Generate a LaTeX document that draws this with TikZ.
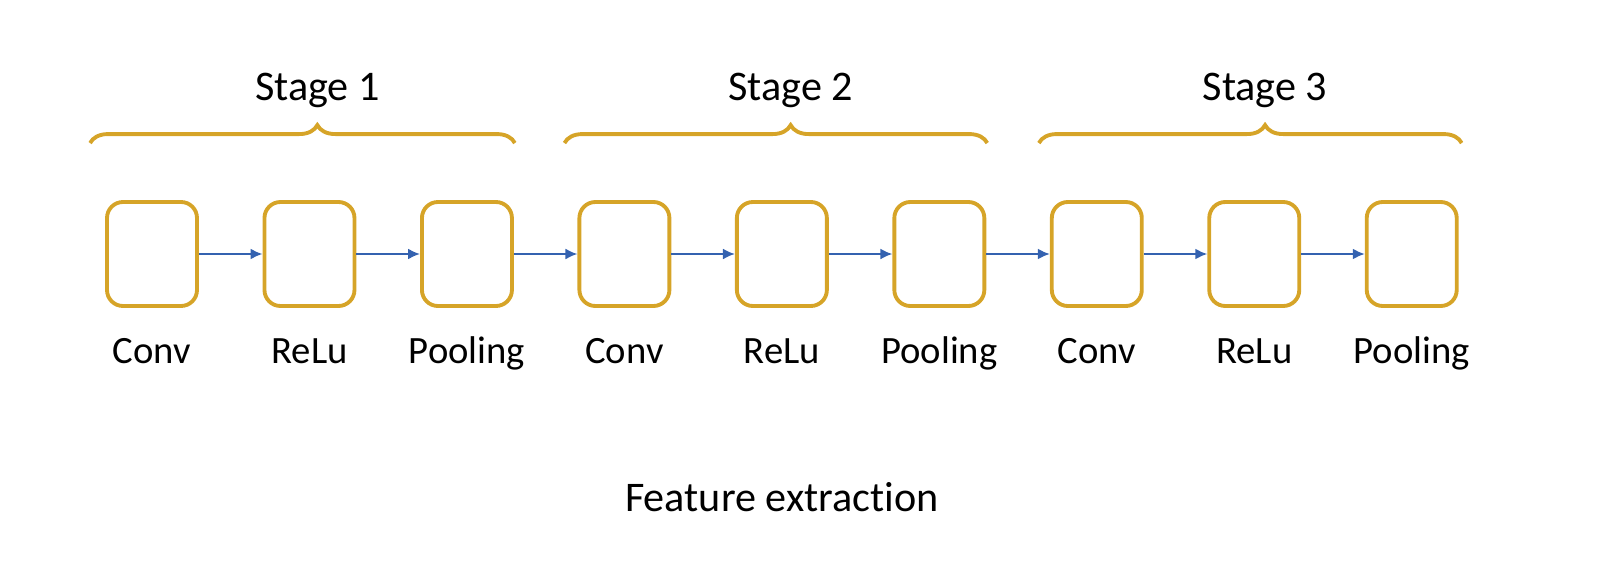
\documentclass[tikz,border=0pt]{standalone}
\usepackage{fontspec}
\setmainfont{Carlito}[Ligatures=NoCommon]
\usetikzlibrary{positioning,arrows.meta,decorations.pathreplacing}
\definecolor{boxgold}{RGB}{214,164,40}
\definecolor{flowblue}{RGB}{52,98,176}

\begin{document}
\begin{tikzpicture}[
        node distance=0.636cm,
        layer/.style={rectangle, rounded corners=1.6mm, draw=boxgold, line width=1.1pt, minimum width=0.9cm, minimum height=1.04cm, inner sep=0pt},
        lbl/.style={anchor=base, font=\fontsize{11pt}{13pt}\selectfont, inner sep=0pt},
        stagelbl/.style={anchor=base, font=\fontsize{12pt}{14pt}\selectfont, inner sep=0pt},
        flow/.style={draw=flowblue, line width=0.6pt, -{Latex[length=1.2mm,width=1.1mm]}},
        stagebrace/.style={draw=boxgold, line width=1.1pt, decorate, decoration={brace, amplitude=1.8mm, aspect=0.535}}
    ]
        \useasboundingbox (0,0) rectangle (16,-5.83);

        % Cac khoi
        \node [layer] (c1) at (1.52,-2.54) {};
        \node [layer, right=of c1] (c2) {};
        \node [layer, right=of c2] (c3) {};
        \node [layer, right=of c3] (c4) {};
        \node [layer, right=of c4] (c5) {};
        \node [layer, right=of c5] (c6) {};
        \node [layer, right=of c6] (c7) {};
        \node [layer, right=of c7] (c8) {};
        \node [layer, right=of c8] (c9) {};

        % Nhan duoi moi khoi
        \node [lbl] (l1) at ([yshift=-0.56cm]c1.south) {Conv};
        \node [lbl] (l2) at ([yshift=-0.56cm]c2.south) {ReLu};
        \node [lbl] (l3) at ([yshift=-0.56cm]c3.south) {Pooling};
        \node [lbl] (l4) at ([yshift=-0.56cm]c4.south) {Conv};
        \node [lbl] (l5) at ([yshift=-0.56cm]c5.south) {ReLu};
        \node [lbl] (l6) at ([yshift=-0.56cm]c6.south) {Pooling};
        \node [lbl] (l7) at ([yshift=-0.56cm]c7.south) {Conv};
        \node [lbl] (l8) at ([yshift=-0.56cm]c8.south) {ReLu};
        \node [lbl] (l9) at ([yshift=-0.56cm]c9.south) {Pooling};

        % Mui ten noi cac khoi
        \draw[flow] (c1) -- (c2);
        \draw[flow] (c2) -- (c3);
        \draw[flow] (c3) -- (c4);
        \draw[flow] (c4) -- (c5);
        \draw[flow] (c5) -- (c6);
        \draw[flow] (c6) -- (c7);
        \draw[flow] (c7) -- (c8);
        \draw[flow] (c8) -- (c9);

        % Ngoac cho tung giai doan
        \coordinate (b1l) at ([xshift=-0.15cm, yshift=0.57cm]c1.north west);
        \coordinate (b1r) at ([xshift=0.01cm, yshift=0.57cm]c3.north east);
        \coordinate (b2l) at ([xshift=-0.13cm, yshift=0.57cm]c4.north west);
        \coordinate (b2r) at ([xshift=0.01cm, yshift=0.57cm]c6.north east);
        \coordinate (b3l) at ([xshift=-0.11cm, yshift=0.57cm]c7.north west);
        \coordinate (b3r) at ([xshift=0.03cm, yshift=0.57cm]c9.north east);
        \draw[stagebrace] (b1l) -- node[stagelbl, pos=0.535, yshift=0.43cm] (s1) {Stage 1} (b1r);
        \draw[stagebrace] (b2l) -- node[stagelbl, pos=0.535, yshift=0.43cm] (s2) {Stage 2} (b2r);
        \draw[stagebrace] (b3l) -- node[stagelbl, pos=0.535, yshift=0.43cm] (s3) {Stage 3} (b3r);

        \node [stagelbl] (feat) at ([yshift=-2.04cm]c5.south) {Feature extraction};
    \end{tikzpicture}
\end{document}
